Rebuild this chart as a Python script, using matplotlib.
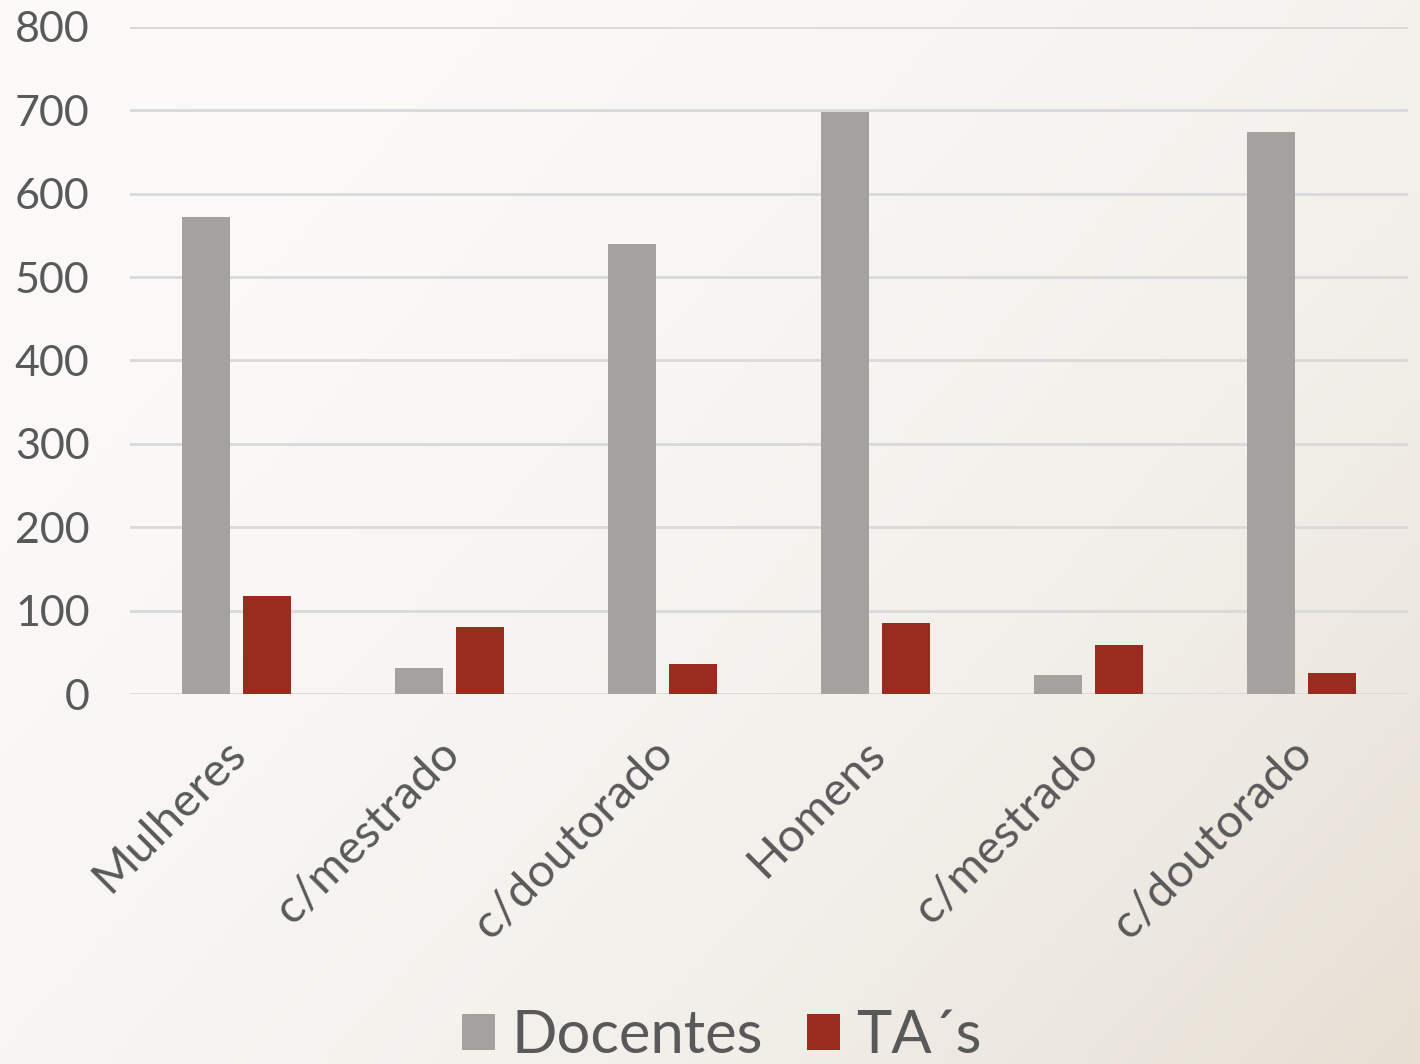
import numpy as np
import matplotlib.pyplot as plt
import matplotlib.transforms as mtransforms
from matplotlib.colors import LinearSegmentedColormap

categorias = ["Mulheres", "c/mestrado", "c/doutorado", "Homens", "c/mestrado", "c/doutorado"]
docentes = [572, 31, 540, 698, 23, 674]
tas = [118, 81, 36, 85, 59, 25]

COR_TEXTO = "#595959"
plt.rcParams["font.family"] = ["Lato", "DejaVu Sans"]

fig = plt.figure(figsize=(14.2, 10.64), dpi=100)

# fundo em degradê, claro no canto superior esquerdo
bg = fig.add_axes([0, 0, 1, 1], zorder=0)
yy, xx = np.mgrid[0:1:200j, 0:1:200j]
grad = np.clip(0.65 * xx + 0.45 * yy - 0.1, 0, 1) ** 1.5
cmap = LinearSegmentedColormap.from_list("fundo", ["#FBFAF8", "#F3F0EB", "#E6DFD4"])
bg.imshow(grad, cmap=cmap, extent=[0, 1, 0, 1], aspect="auto", origin="upper")
bg.axis("off")

ax = fig.add_axes([0.0915, 0.3477, 0.9, 0.627], zorder=1)
ax.patch.set_alpha(0)

x = np.arange(len(categorias))
w = 0.225
ax.bar(x - 0.143, docentes, w, color="#A5A19F", label="Docentes", zorder=3)
ax.bar(x + 0.143, tas, w, color="#9A2B1F", label="TA\u00b4s", zorder=3)

ax.set_ylim(0, 800)
ax.set_xlim(-0.5, len(categorias) - 0.5)
ax.set_yticks(range(0, 801, 100))
ax.yaxis.grid(True, color="#D9D9D9", linewidth=2, zorder=0)
for s in ax.spines.values():
    s.set_visible(False)
ax.tick_params(axis="both", length=0, colors=COR_TEXTO)
ax.tick_params(axis="y", pad=29, labelsize=31)
ax.set_xticks(x)
ax.set_xticklabels(categorias, rotation=45, ha="right", rotation_mode="anchor")
ax.tick_params(axis="x", pad=27, labelsize=34)

# desloca os rótulos inclinados um pouco para a esquerda
desloc = mtransforms.ScaledTranslation(-0.12, 0, fig.dpi_scale_trans)
for lbl in ax.get_xticklabels():
    lbl.set_transform(lbl.get_transform() + desloc)

leg = fig.legend(loc="lower center", bbox_to_anchor=(0.5085, -0.05), ncol=2, frameon=False,
                 fontsize=43, handlelength=0.55, handleheight=0.55, handletextpad=0.27,
                 columnspacing=0.75)
for t in leg.get_texts():
    t.set_color(COR_TEXTO)

fig.savefig("out.png", dpi=100)
